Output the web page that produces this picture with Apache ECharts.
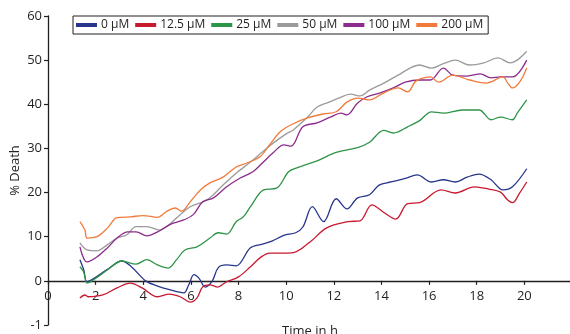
<!DOCTYPE html>
<html>
<head>
<meta charset="utf-8">
<script src="https://cdn.jsdelivr.net/npm/echarts@6/dist/echarts.min.js"></script>
<style>
  html, body { margin: 0; padding: 0; background: #fff; }
  #chart { width: 570px; height: 334px; }
</style>
</head>
<body>
<div id="chart"></div>
<script>
// Cell death over time for each concentration: [hour, % death]
const seriesNames = ['0 µM', '12.5 µM', '25 µM', '50 µM', '100 µM', '200 µM'];
const seriesColors = ['#27368c', '#c8192f', '#2e9447', '#9b9b9b', '#8b2c8c', '#f27b3c'];

const death0 = [[1.34,4.8],[1.5,2.5],[1.64,-0.2],[2.0,0.8],[2.5,2.6],[3.1,4.5],[3.5,3.2],[4.1,0],[4.6,-1.2],[5.1,-2.0],[5.7,-2.7],[5.9,-1],[6.13,1.4],[6.35,0.5],[6.6,-1.4],[6.9,0],[7.15,3],[7.5,3.6],[7.9,3.4],[8.5,7.5],[9.0,8.3],[9.4,9.0],[9.9,10.3],[10.4,10.9],[10.7,12.2],[11.1,16.8],[11.57,13.4],[12.1,18.6],[12.55,16.3],[13.0,18.8],[13.5,19.5],[13.9,21.7],[14.4,22.4],[15.0,23.2],[15.5,24],[16.1,22.4],[16.6,22.9],[17.1,22.4],[17.6,23.5],[18.1,24.2],[18.6,22.9],[19.1,20.6],[19.5,21.3],[20.1,25.4]];
const death12_5 = [[1.34,-3.9],[1.55,-3.2],[1.68,-3.6],[2.3,-3.2],[2.9,-1.6],[3.45,-0.5],[3.95,-1.6],[4.6,-3.6],[5.1,-3.0],[5.55,-3.6],[5.97,-4.8],[6.25,-3.9],[6.5,-1.3],[6.8,-0.9],[7.1,-1.4],[7.5,-0.2],[8.0,0.9],[8.5,3.2],[8.9,5.2],[9.3,6.3],[9.9,6.3],[10.3,6.4],[11.0,8.8],[11.7,12],[12.6,13.4],[13.1,13.6],[13.6,17.2],[14.1,15.5],[14.6,14.0],[15.1,17.5],[15.6,17.7],[16.5,20.6],[17.1,19.9],[17.9,21.3],[18.5,20.8],[19.0,20.1],[19.3,18.3],[19.5,17.7],[19.8,19.9],[20.1,22.4]];
const death25 = [[1.34,3.2],[1.5,2],[1.64,-0.5],[1.9,0.2],[2.5,2.5],[3.1,4.5],[3.7,3.8],[4.15,4.8],[4.6,3.6],[5.05,2.9],[5.4,4.8],[5.75,7],[6.25,7.7],[6.8,9.7],[7.15,10.9],[7.5,10.6],[7.9,13.4],[8.2,14.5],[8.5,16.8],[9.05,20.6],[9.6,21],[10.1,24.7],[10.45,25.6],[11.3,27.2],[12.1,29.1],[13.0,30.2],[13.5,31.4],[14.1,34.1],[14.5,33.5],[15.1,34.9],[15.6,36.3],[16.1,38.3],[16.6,38],[17.4,38.7],[18.1,38.7],[18.6,36.5],[19.0,37.1],[19.5,36.5],[19.7,38],[20.1,41]];
const death50 = [[1.34,8.6],[1.64,7],[2.05,6.8],[2.5,8.2],[2.9,9.7],[3.3,10.4],[3.7,12.3],[4.15,12.3],[4.7,11.5],[5.1,12.8],[5.55,15],[5.97,16.8],[6.5,17.9],[6.8,18.8],[7.35,21.7],[7.9,24.4],[8.5,26.9],[9.0,29.2],[9.45,31.2],[10.0,33.3],[10.3,34.2],[10.9,37.1],[11.3,39.4],[11.8,40.5],[12.2,41.4],[12.7,42.3],[13.1,41.9],[13.5,43.2],[14.1,44.8],[14.7,46.6],[15.2,48.2],[15.6,48.9],[16.1,48.2],[16.6,49.2],[17.1,50],[17.7,48.9],[18.3,49.4],[18.9,50.5],[19.4,49.4],[19.7,50],[20.1,52]];
const death100 = [[1.34,7.7],[1.64,4.3],[2.05,5.4],[2.5,7.5],[2.9,9.7],[3.35,11.1],[3.7,11.1],[4.15,10.2],[4.6,11.1],[5.1,12.7],[5.7,13.8],[6.1,15],[6.5,17.9],[6.95,18.8],[7.5,21.3],[8.07,23.3],[8.6,24.7],[9.0,26.7],[9.45,29],[9.9,30.8],[10.2,30.5],[10.7,34.9],[11.3,35.8],[11.85,37.1],[12.3,38],[12.55,37.6],[13.0,40.3],[13.4,41.7],[13.95,42.6],[14.5,43.7],[15.0,45],[15.6,45.5],[16.05,45.5],[16.6,48.2],[17.0,46.6],[17.6,46.4],[18.15,46.9],[18.6,46],[19.0,46.2],[19.5,46.2],[20.1,50]];
const death200 = [[1.34,13.4],[1.55,11.5],[1.64,9.7],[2.05,10],[2.5,12],[2.9,14.3],[3.45,14.5],[4.0,14.8],[4.6,14.4],[5.0,15.8],[5.35,16.5],[5.6,15.8],[5.97,17.9],[6.4,20.6],[6.8,22.2],[7.35,23.5],[7.9,25.8],[8.35,26.7],[8.9,28.1],[9.3,30.8],[9.75,33.8],[10.3,35.6],[10.9,36.9],[11.55,37.8],[12.1,38.3],[12.55,40.5],[13.0,41.4],[13.5,41],[14.1,42.6],[14.7,43.7],[15.1,42.8],[15.4,45],[15.6,45.7],[16.05,46.2],[16.4,45],[17.0,46.6],[17.7,45.5],[18.4,44.8],[19.1,46.2],[19.3,44.8],[19.5,43.7],[19.8,45],[20.1,48.2]];

const seriesData = [death0, death12_5, death25, death50, death100, death200];

const xTicks = { min: 0, max: 22, step: 2 };
const yTicks = { min: -10, max: 60, step: 10 };
const yTickLabels = { '-10': '-1' };

const ink = '#231f20';
const font = 'Open Sans';

const gridBox = { left: 48, top: 16, width: 524, height: 309 };
// The time axis crosses the vertical axis at 0 %, so lift it from the grid bottom to that level
const zeroLift = gridBox.height * (0 - yTicks.min) / (yTicks.max - yTicks.min);

const chart = echarts.init(document.getElementById('chart'), null, { renderer: 'canvas' });

chart.setOption({
  animation: false,
  backgroundColor: '#fff',
  grid: Object.assign({ containLabel: false, outerBoundsMode: 'none' }, gridBox),
  legend: {
    left: 73,
    top: 16,
    orient: 'horizontal',
    padding: [3, 5, 3, 3],
    itemGap: 6,
    itemWidth: 21,
    itemHeight: 4,
    icon: 'rect',
    borderColor: ink,
    borderWidth: 1,
    borderRadius: 0,
    textStyle: { fontFamily: font, fontSize: 12, color: ink, padding: [0, 0, 0, -1] },
    data: seriesNames
  },
  xAxis: {
    type: 'value',
    position: 'bottom',
    offset: -zeroLift,
    min: xTicks.min,
    max: xTicks.max,
    interval: xTicks.step,
    name: 'Time in h',
    nameLocation: 'middle',
    nameGap: 44,
    nameMoveOverlap: false,
    nameTextStyle: { fontFamily: font, fontSize: 13, color: ink },
    axisLine: { onZero: false, lineStyle: { color: ink, width: 1.3 } },
    axisTick: { show: true, inside: false, length: 4, lineStyle: { color: ink, width: 1.2 } },
    axisLabel: {
      fontFamily: font, fontSize: 13, color: ink, margin: 9,
      showMaxLabel: false
    },
    splitLine: { show: false }
  },
  yAxis: {
    type: 'value',
    min: yTicks.min,
    max: yTicks.max,
    interval: yTicks.step,
    name: '% Death',
    nameLocation: 'middle',
    nameGap: 26,
    nameMoveOverlap: false,
    nameRotate: 90,
    nameTextStyle: { fontFamily: font, fontSize: 13, color: ink },
    axisLine: { show: true, onZero: false, lineStyle: { color: ink, width: 1.3 } },
    axisTick: { show: true, inside: false, length: 4, lineStyle: { color: ink, width: 1.2 } },
    axisLabel: {
      fontFamily: font, fontSize: 13, color: ink, margin: 6,
      formatter: v => (yTickLabels[String(v)] !== undefined ? yTickLabels[String(v)] : String(v))
    },
    splitLine: { show: false }
  },
  series: seriesNames.map((name, i) => ({
    name: name,
    type: 'line',
    data: seriesData[i],
    smooth: 0.35,
    showSymbol: false,
    symbol: 'none',
    color: seriesColors[i],
    lineStyle: { color: seriesColors[i], width: 1.3 },
    z: 2
  }))
});
</script>
</body>
</html>
